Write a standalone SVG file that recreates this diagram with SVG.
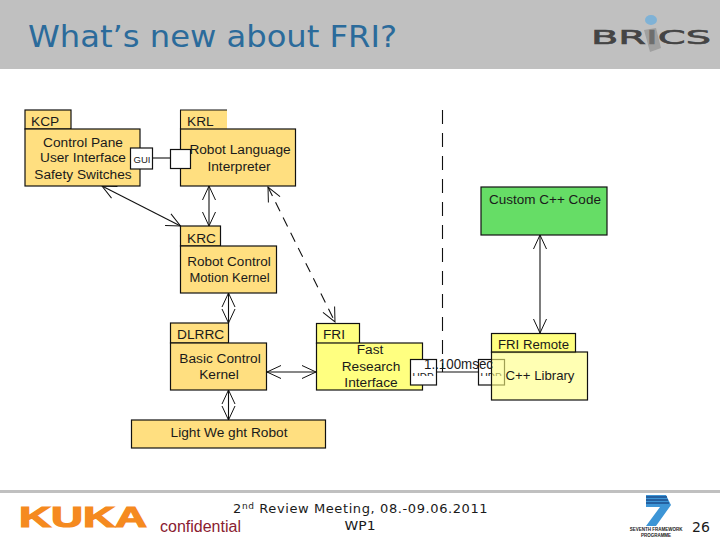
<svg xmlns="http://www.w3.org/2000/svg" width="720" height="540" viewBox="0 0 720 540">
<style>
.b{fill:#ffdf80;stroke:#111;stroke-width:1.2}
.y{fill:#ffff80;stroke:#111;stroke-width:1.2}
.w{fill:#fff;stroke:#111;stroke-width:1.2}
.c{fill:none;stroke:#111;stroke-width:1.1}
.d{stroke-dasharray:10 7}
text{font-family:"Liberation Sans",Arial,sans-serif;font-size:13.7px;fill:#1a1a1a}
.m{text-anchor:middle}
.v{font-family:"DejaVu Sans",Verdana,sans-serif}
</style>
<defs>
<marker id="a" markerWidth="18" markerHeight="18" refX="16" refY="9" orient="auto-start-reverse" markerUnits="userSpaceOnUse"><path d="M2 2.500L16 9L2 15.500" fill="none" stroke="#111" stroke-width="1"/></marker>
<clipPath id="u1"><rect x="410" y="359" width="27" height="17"/></clipPath>
<clipPath id="u2"><rect x="478" y="359" width="27" height="17"/></clipPath>
</defs>
<rect id="header" width="720" height="69" fill="#c0c0c0"/>
<text class="v" x="28" y="47" textLength="369" lengthAdjust="spacingAndGlyphs" style="font-size:30px;fill:#2b6b9b">What’s new about FRI?</text>
<g id="brics-logo">
<text class="v" x="591" y="44" style="font-size:20px;fill:#444;stroke:#444;stroke-width:.6" textLength="120" lengthAdjust="spacingAndGlyphs">BRICS</text>
<ellipse cx="651" cy="20" rx="6" ry="5" fill="#7fb2d6"/>
<path d="M644 30L656 28L661 48L650 52Z" fill="#8a8a8a" opacity=".6"/>
</g>
<g id="connectors">
<path class="c" d="M153 158H170"/>
<path class="c" d="M102 186L180.500 226" marker-start="url(#a)" marker-end="url(#a)"/>
<path class="c" d="M209 186V226" marker-start="url(#a)" marker-end="url(#a)"/>
<path class="c" d="M228.500 293V323" marker-start="url(#a)" marker-end="url(#a)"/>
<path class="c" d="M228.500 390V420" marker-start="url(#a)" marker-end="url(#a)"/>
<path class="c" d="M267 372H316" marker-start="url(#a)" marker-end="url(#a)"/>
<path class="c d" d="M268 187L335 322" marker-start="url(#a)" marker-end="url(#a)"/>
<path class="c d" d="M442.500 110V372" style="stroke-dasharray:14 9"/>
<path class="c" d="M436 372H478"/>
<path class="c" d="M540 235V333" marker-start="url(#a)" marker-end="url(#a)"/>
</g>
<g id="kcp"><rect class="b" x="25" y="110" width="46" height="19"/><rect class="b" x="25" y="129" width="115" height="57"/>
<text x="31" y="126">KCP</text><text class="m" x="83" y="147">Control Pane</text><text class="m" x="83" y="162">User Interface</text><text class="m" x="83" y="179">Safety Switches</text></g>
<g id="gui"><rect class="w" x="130.500" y="148" width="22" height="21"/><text class="m" x="142" y="163" style="font-size:9.500px">GUI</text></g>
<g id="krl"><path d="M180.500 129V110H227V129Z" fill="#ffdf80"/><path d="M180.500 129V110H227" class="c"/><rect class="b" x="180.500" y="129" width="115" height="57"/>
<text x="187" y="126">KRL</text><text class="m" x="240" y="154">Robot Language</text><text class="m" x="239" y="171">Interpreter</text></g>
<g id="krl-port"><rect class="w" x="170.500" y="149.500" width="20" height="19"/></g>
<g id="krc"><rect class="b" x="180.500" y="226" width="40" height="20"/><rect class="b" x="180.500" y="246" width="96" height="47"/>
<text x="187" y="243">KRC</text><text class="m" x="229" y="266" style="font-size:13.500px">Robot Control</text><text class="m" x="229.500" y="282" style="font-size:13px">Motion Kernel</text></g>
<g id="custom"><rect x="481" y="187" width="126" height="48" fill="#66dd66" stroke="#111" stroke-width="1.200"/><text class="m" x="545" y="204" style="font-size:13.500px">Custom C++ Code</text></g>
<g id="dlrrc"><rect class="b" x="170.500" y="323" width="58" height="20"/><rect class="b" x="170.500" y="343" width="96" height="47"/>
<text x="177" y="339">DLRRC</text><text class="m" x="220" y="363">Basic Control</text><text class="m" x="219" y="379">Kernel</text></g>
<g id="robot"><rect class="b" x="131.500" y="420" width="194" height="28"/><text class="m" x="229" y="437">Light We ght Robot</text></g>
<g id="fri"><rect class="y" x="316.500" y="323.500" width="43" height="20"/><rect class="y" x="316.500" y="343" width="106" height="47"/>
<text x="323" y="339">FRI</text><text class="m" x="370" y="354">Fast</text><text class="m" x="371" y="371">Research</text><text class="m" x="371" y="387">Interface</text></g>
<g id="fri-udp"><rect class="w" x="410.500" y="359.500" width="26" height="25.500"/><text class="m" x="423" y="381" clip-path="url(#u1)" style="font-size:10px">UDP</text></g>
<g id="udp-remote"><rect class="w" x="478.500" y="359.500" width="26" height="25.500"/><text class="m" x="491" y="381" clip-path="url(#u2)" style="font-size:10px">UDP</text></g>
<g id="fri-remote"><rect class="y" x="491.500" y="333.500" width="84" height="19"/><rect x="491.500" y="352" width="96" height="48" fill="#ffff80" fill-opacity=".6" stroke="#111" stroke-width="1.200"/>
<text x="498" y="349" style="font-size:13.200px">FRI Remote</text><text class="m" x="540" y="380" style="font-size:13.200px">C++ Library</text></g>
<text x="424" y="369" textLength="69" lengthAdjust="spacingAndGlyphs" style="font-size:14px">1..100msec</text>
<rect id="footer-line" y="490" width="720" height="3" fill="#c0c0c0"/>
<text id="kuka" x="19" y="527" textLength="128" lengthAdjust="spacingAndGlyphs" style="font-size:29px;font-weight:bold;fill:#f58a1f;stroke:#f58a1f;stroke-width:1.200">KUKA</text>
<text x="160" y="532" style="font-size:16px;fill:#8a2030">confidential</text>
<text class="v" x="233" y="513" style="font-size:13px;letter-spacing:.6px">2<tspan dy="-4" style="font-size:9px">nd</tspan><tspan dy="4"> Review Meeting, 08.-09.06.2011</tspan></text>
<text class="v m" x="360" y="530" textLength="31" lengthAdjust="spacingAndGlyphs" style="font-size:13px">WP1</text>
<g id="fp7-logo">
<path d="M646 495H666L671 505L656 526H646L660 507H646Z" fill="#3d95d6"/>
<path d="M646 497H667M646 500H668M646 503H669" stroke="#1d4f8f" stroke-width="1.500"/>
<text class="m" x="656" y="531" style="font-size:4.500px;font-weight:bold">SEVENTH FRAMEWORK</text>
<text class="m" x="656" y="537" style="font-size:4.500px;font-weight:bold">PROGRAMME</text>
</g>
<text class="v" x="692" y="532" style="font-size:14px">26</text>
</svg>
